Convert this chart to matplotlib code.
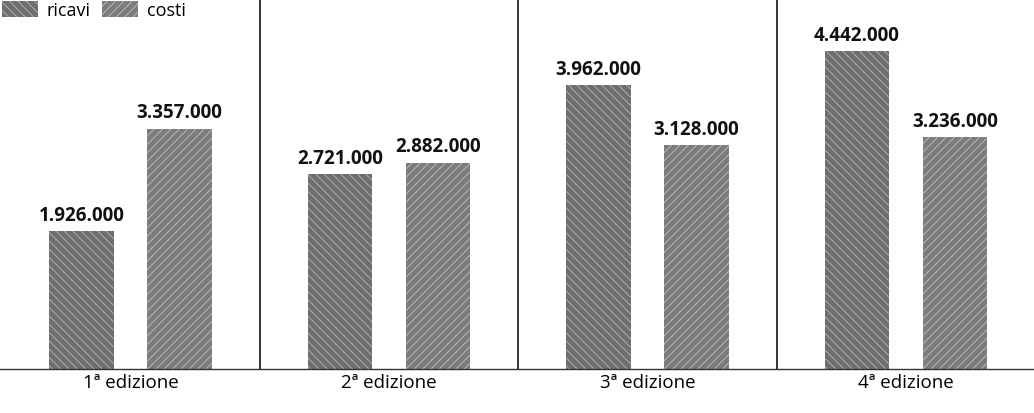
import matplotlib.pyplot as plt
import numpy as np
from matplotlib.patches import Patch

plt.rcParams['font.family'] = ['Open Sans', 'DejaVu Sans']
plt.rcParams['hatch.linewidth'] = 0.6

editions = ['1ª edizione', '2ª edizione', '3ª edizione', '4ª edizione']
ricavi = [1926000, 2721000, 3962000, 4442000]
costi = [3357000, 2882000, 3128000, 3236000]
series_names = ['ricavi', 'costi']

def fmt(v):
    return f'{v:,}'.replace(',', '.')

fig = plt.figure(figsize=(10.34, 4.14), dpi=100)
ax = fig.add_axes([0, 0.106, 1, 0.894])

x = np.arange(len(editions))
w = 0.25
off = 0.19
b1 = ax.bar(x - off, ricavi, w, facecolor='#6e6e6e', edgecolor='#b5b5b5', hatch='\\\\\\\\', linewidth=0)
b2 = ax.bar(x + off, costi, w, facecolor='#7c7c7c', edgecolor='#c0c0c0', hatch='////', linewidth=0)

for bars, vals in [(b1, ricavi), (b2, costi)]:
    for r, v in zip(bars, vals):
        ax.text(r.get_x() + r.get_width() / 2, v + 90000, fmt(v), ha='center', va='bottom',
                fontsize=13.5, fontweight='bold', color='#111111')

# separatori verticali tra le edizioni
for s in x[:-1] + 0.5:
    ax.axvline(s, color='#111111', linewidth=1.2)

ax.set_xlim(-0.505, 3.495)
ax.set_ylim(0, 5170000)
ax.set_yticks([])
ax.set_xticks(x)
ax.set_xticklabels(editions, fontsize=13.5)
ax.tick_params(axis='x', length=0, pad=3)
for sp in ['top', 'left', 'right']:
    ax.spines[sp].set_visible(False)
ax.spines['bottom'].set_color('#333333')
ax.spines['bottom'].set_linewidth(1.0)

handles = [Patch(facecolor='#6e6e6e', edgecolor='#b5b5b5', hatch='\\\\\\\\', linewidth=0),
           Patch(facecolor='#7c7c7c', edgecolor='#c0c0c0', hatch='////', linewidth=0)]
ax.legend(handles, series_names, loc='upper left', bbox_to_anchor=(0.0, 1.0), ncol=2,
          frameon=False, fontsize=13, handlelength=2.0, handleheight=1.0,
          handletextpad=0.5, columnspacing=0.6, borderaxespad=0, borderpad=0.1)

fig.savefig('out.png', dpi=100)
